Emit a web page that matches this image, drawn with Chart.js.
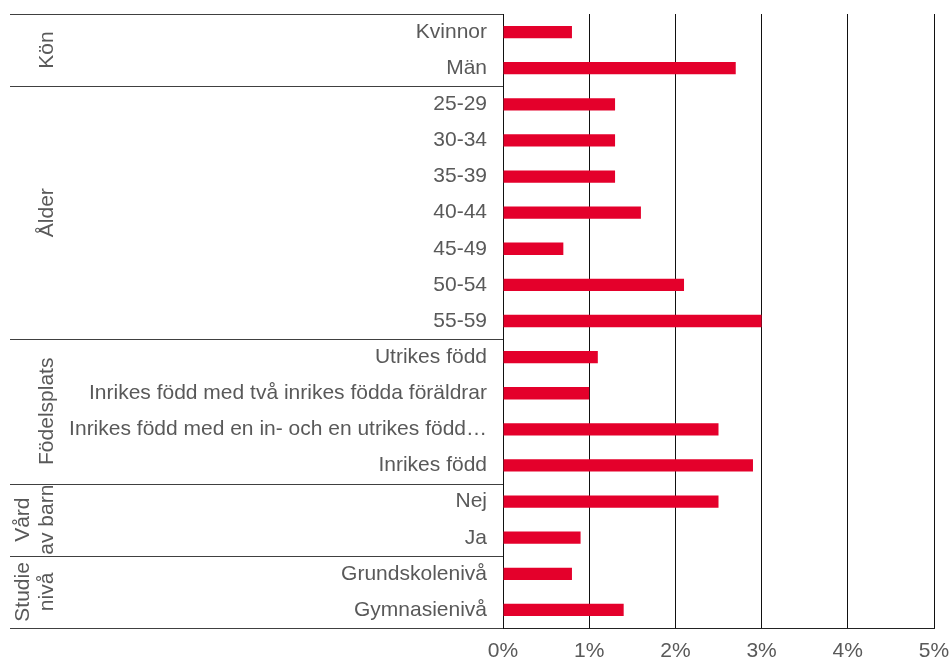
<!DOCTYPE html>
<html>
<head>
<meta charset="utf-8">
<script src="https://cdn.jsdelivr.net/npm/chart.js@4"></script>
<style>
  html, body { margin: 0; padding: 0; background: #fff; }
  #wrap { width: 949px; height: 663px; position: relative; }
</style>
</head>
<body>
<div id="wrap"><canvas id="c"></canvas></div>
<script>
const categories = [
  'Kvinnor', 'Män',
  '25-29', '30-34', '35-39', '40-44', '45-49', '50-54', '55-59',
  'Utrikes född', 'Inrikes född med två inrikes födda föräldrar', 'Inrikes född med en in- och en utrikes född…', 'Inrikes född',
  'Nej', 'Ja',
  'Grundskolenivå', 'Gymnasienivå'
];
const values = [0.8, 2.7, 1.3, 1.3, 1.3, 1.6, 0.7, 2.1, 3.0, 1.1, 1.0, 2.5, 2.9, 2.5, 0.9, 0.8, 1.4];
const groupNames = [['Kön'], ['Ålder'], ['Födelsplats'], ['Vård', 'av barn'], ['Studie', 'nivå']];
const groupSizes = [2, 7, 4, 2, 2];
const xMin = 0, xMax = 5, xStep = 1;

const FONT = "'Liberation Sans', Arial, sans-serif";
const TEXT = '#595959';

const groupPlugin = {
  id: 'groups',
  afterDraw(chart) {
    const ctx = chart.ctx;
    const y = chart.scales.y;
    const left = chart.chartArea.left;
    const half = (y.getPixelForValue(1) - y.getPixelForValue(0)) / 2;
    ctx.save();
    ctx.strokeStyle = '#404040';
    ctx.lineWidth = 1;
    let start = 0;
    const bounds = [y.getPixelForValue(0) - half];
    groupSizes.forEach(n => { start += n; bounds.push(y.getPixelForValue(start - 1) + half); });
    bounds.forEach(b => {
      const yy = Math.round(b) + 0.5;
      ctx.beginPath(); ctx.moveTo(10, yy); ctx.lineTo(left, yy); ctx.stroke();
    });
    ctx.fillStyle = TEXT;
    ctx.font = '21px ' + FONT;
    ctx.textAlign = 'center';
    ctx.textBaseline = 'middle';
    groupNames.forEach((lines, gi) => {
      const cy = (bounds[gi] + bounds[gi + 1]) / 2;
      lines.forEach((ln, li) => {
        const cx = 47 - (lines.length - 1 - li) * 24;
        ctx.save();
        ctx.translate(cx, cy);
        ctx.rotate(-Math.PI / 2);
        ctx.fillText(ln, 0, 0);
        ctx.restore();
      });
    });
    ctx.restore();
  }
};

new Chart(document.getElementById('c'), {
  type: 'bar',
  data: {
    labels: categories,
    datasets: [{
      data: values,
      backgroundColor: '#e4002b',
      barPercentage: 0.34,
      categoryPercentage: 1
    }]
  },
  options: {
    indexAxis: 'y',
    responsive: true,
    maintainAspectRatio: false,
    animation: false,
    layout: { padding: { top: 14, right: 15, left: 0, bottom: 0 } },
    plugins: { legend: { display: false }, tooltip: { enabled: false } },
    scales: {
      x: {
        min: xMin, max: xMax,
        grid: { color: '#111', lineWidth: 1, drawTicks: false },
        border: { color: '#222', width: 1 },
        ticks: {
          stepSize: xStep,
          color: TEXT,
          font: { family: FONT, size: 21 },
          padding: 11,
          callback: v => v + '%'
        },
        afterFit(scale) { scale.height = 35; scale.paddingLeft = 0; scale.paddingRight = 0; }
      },
      y: {
        grid: { display: false, drawTicks: false },
        border: { color: '#111', width: 1 },
        ticks: {
          color: TEXT,
          font: { family: FONT, size: 21 },
          padding: 16,
          autoSkip: false
        },
        afterFit(scale) { scale.width = 503; scale.paddingTop = 0; scale.paddingBottom = 0; }
      }
    }
  },
  plugins: [groupPlugin]
});
</script>
</body>
</html>
